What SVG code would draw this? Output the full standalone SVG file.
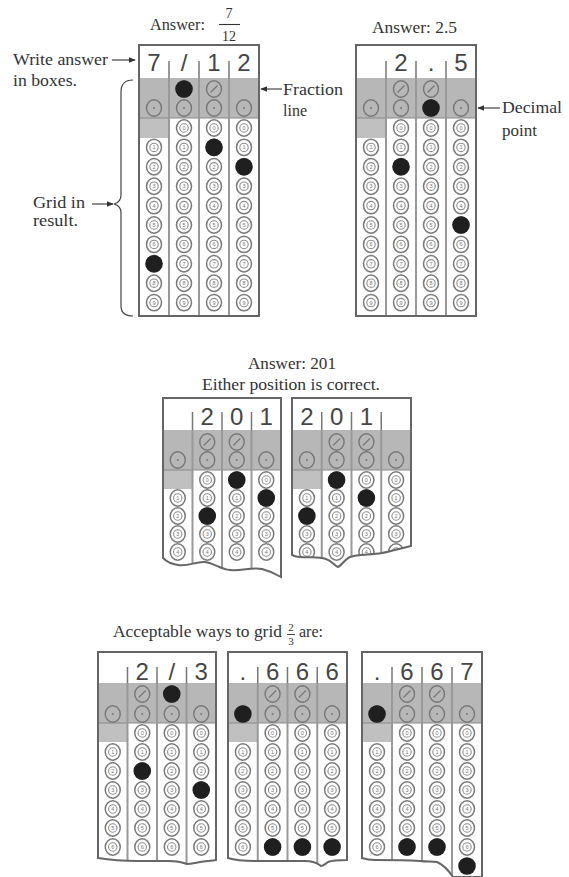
<svg xmlns="http://www.w3.org/2000/svg" width="569" height="877" viewBox="0 0 569 877">
<defs>
<style>
.lb{font-family:"Liberation Serif","Times New Roman",serif;font-size:16px;fill:#333}
.lbm{font-family:"Liberation Serif","Times New Roman",serif;font-size:16px;fill:#333;text-anchor:middle}
.fr{font-family:"Liberation Serif","Times New Roman",serif;font-size:14px;fill:#333;text-anchor:middle}
.fs{font-family:"Liberation Serif","Times New Roman",serif;font-size:11px;fill:#333;text-anchor:middle}
.hd{font-family:"Liberation Sans",Arial,sans-serif;font-size:24px;fill:#464646;text-anchor:middle}
.bg{fill:#fff}
.ol{fill:none;stroke:#666;stroke-width:2}
.band{fill:#b7b7b7}
.cell{fill:#c0c0c0}
.dv{fill:none;stroke:#999;stroke-width:2}
.bl{stroke:#888;stroke-width:1}
.tk{fill:none;stroke:#777;stroke-width:1.5}
.ob{fill:#fff;stroke:#7a7a7a;stroke-width:1.5}
.ib{fill:none;stroke:#8e8e8e;stroke-width:1.1}
.dg{font-family:"Liberation Sans",Arial,sans-serif;font-size:5.5px;fill:#777;text-anchor:middle}
.gb{fill:none;stroke:#777;stroke-width:1.4}
.fb{fill:#1f1f1f}
.cn{fill:none;stroke:#444;stroke-width:1.2}
</style>
<marker id="ah" viewBox="0 0 10 10" refX="9" refY="5" markerWidth="7" markerHeight="7" markerUnits="userSpaceOnUse" orient="auto"><path d="M0,1L10,5L0,9Z" fill="#333"/></marker>
<g id="n0"><ellipse class="ob" rx="7.5" ry="8.2"/><circle class="ib" r="4.2"/><text class="dg" y="2">0</text></g>
<g id="n1"><ellipse class="ob" rx="7.5" ry="8.2"/><circle class="ib" r="4.2"/><text class="dg" y="2">1</text></g>
<g id="n2"><ellipse class="ob" rx="7.5" ry="8.2"/><circle class="ib" r="4.2"/><text class="dg" y="2">2</text></g>
<g id="n3"><ellipse class="ob" rx="7.5" ry="8.2"/><circle class="ib" r="4.2"/><text class="dg" y="2">3</text></g>
<g id="n4"><ellipse class="ob" rx="7.5" ry="8.2"/><circle class="ib" r="4.2"/><text class="dg" y="2">4</text></g>
<g id="n5"><ellipse class="ob" rx="7.5" ry="8.2"/><circle class="ib" r="4.2"/><text class="dg" y="2">5</text></g>
<g id="n6"><ellipse class="ob" rx="7.5" ry="8.2"/><circle class="ib" r="4.2"/><text class="dg" y="2">6</text></g>
<g id="n7"><ellipse class="ob" rx="7.5" ry="8.2"/><circle class="ib" r="4.2"/><text class="dg" y="2">7</text></g>
<g id="n8"><ellipse class="ob" rx="7.5" ry="8.2"/><circle class="ib" r="4.2"/><text class="dg" y="2">8</text></g>
<g id="n9"><ellipse class="ob" rx="7.5" ry="8.2"/><circle class="ib" r="4.2"/><text class="dg" y="2">9</text></g>
<g id="sl"><ellipse class="gb" rx="7.5" ry="8.2"/><path d="M-3.5,3.5L3.5,-3.5" stroke="#777" stroke-width="1.2"/></g>
<g id="dt"><ellipse class="gb" rx="7.5" ry="8.2"/><circle r="1" fill="#777"/></g>
<circle id="fb" class="fb" r="8.8"/>
<g id="cA"><use href="#n0"/><use href="#n1" y="19.4"/><use href="#n2" y="38.8"/><use href="#n3" y="58.2"/><use href="#n4" y="77.6"/><use href="#n5" y="97"/><use href="#n6" y="116.4"/><use href="#n7" y="135.8"/><use href="#n8" y="155.2"/><use href="#n9" y="174.6"/></g>
<g id="cA1"><use href="#n1" y="19.4"/><use href="#n2" y="38.8"/><use href="#n3" y="58.2"/><use href="#n4" y="77.6"/><use href="#n5" y="97"/><use href="#n6" y="116.4"/><use href="#n7" y="135.8"/><use href="#n8" y="155.2"/><use href="#n9" y="174.6"/></g>
<g id="cB"><use href="#n0"/><use href="#n1" y="18"/><use href="#n2" y="36"/><use href="#n3" y="54"/><use href="#n4" y="72"/></g>
<g id="cB1"><use href="#n1" y="18"/><use href="#n2" y="36"/><use href="#n3" y="54"/><use href="#n4" y="72"/></g>
<g id="cC"><use href="#n0"/><use href="#n1" y="19"/><use href="#n2" y="38"/><use href="#n3" y="57"/><use href="#n4" y="76"/><use href="#n5" y="95"/><use href="#n6" y="114"/></g>
<g id="cC1"><use href="#n1" y="19"/><use href="#n2" y="38"/><use href="#n3" y="57"/><use href="#n4" y="76"/><use href="#n5" y="95"/><use href="#n6" y="114"/></g>
<path id="p3" d="M163,398H281V577C276,574 270,571 262,569C252,567 242,571 230,570C220,569 214,563 205,562C196,561 188,567 178,565C171,564 166,561 163,558Z"/>
<path id="p4" d="M292,398H411V546C402,548 392,551 382,553C370,555 358,554 350,557C345,559 341,566 338,567C335,566 332,561 326,559C318,556 310,558 300,557C296,557 294,556 292,555Z"/>
<path id="p5" d="M98,652H216V860C212,861 206,861 200,862C194,863 192,864 187,864C182,862 176,861 168,861C158,861 148,861 138,861C125,861 110,860 98,858Z"/>
<path id="p6" d="M228,652H347V860C340,860 333,860 328,862C325,864 323,866 321,866C318,864 315,861 305,861C290,861 270,861 255,861C243,861 234,860 228,858Z"/>
<path id="p7" d="M362,652H482V877H453C449,871 444,865 437,862C432,861 428,862 420,861C405,860 390,860 375,860C369,860 365,859 362,858Z"/>
<clipPath id="k3"><use href="#p3"/></clipPath>
<clipPath id="k4"><use href="#p4"/></clipPath>
<clipPath id="k5"><use href="#p5"/></clipPath>
<clipPath id="k6"><use href="#p6"/></clipPath>
<clipPath id="k7"><use href="#p7"/></clipPath>
</defs>
<rect width="569" height="877" fill="#fff"/>

<!-- labels -->
<g id="title-7-12">
<text class="lb" x="150" y="30" textLength="55" lengthAdjust="spacingAndGlyphs">Answer:</text>
<text class="fr" x="229" y="18">7</text>
<line x1="219" y1="24.5" x2="240" y2="24.5" stroke="#333" stroke-width="1.1"/>
<text class="fr" x="229" y="41">12</text>
</g>
<g id="label-write"><text class="lb" x="13" y="65" textLength="95" lengthAdjust="spacingAndGlyphs">Write answer</text><text class="lb" x="13" y="86" textLength="64" lengthAdjust="spacingAndGlyphs">in boxes.</text></g>
<g id="label-grid"><text class="lb" x="33" y="208" textLength="52" lengthAdjust="spacingAndGlyphs">Grid in</text><text class="lb" x="33" y="226" textLength="45" lengthAdjust="spacingAndGlyphs">result.</text></g>
<g id="label-fraction"><text class="lb" x="283" y="95" textLength="60" lengthAdjust="spacingAndGlyphs">Fraction</text><text class="lb" x="283" y="116">line</text></g>
<g id="title-2-5"><text class="lb" x="372" y="33" textLength="85" lengthAdjust="spacingAndGlyphs">Answer: 2.5</text></g>
<g id="label-decimal"><text class="lb" x="502" y="113" textLength="60" lengthAdjust="spacingAndGlyphs">Decimal</text><text class="lb" x="502" y="136" textLength="35" lengthAdjust="spacingAndGlyphs">point</text></g>
<g id="title-201"><text class="lbm" x="292" y="369" textLength="88" lengthAdjust="spacingAndGlyphs">Answer: 201</text><text class="lbm" x="291" y="390" textLength="178" lengthAdjust="spacingAndGlyphs">Either position is correct.</text></g>
<g id="title-2-3">
<text class="lb" x="113" y="637" textLength="169" lengthAdjust="spacingAndGlyphs">Acceptable ways to grid</text>
<text class="fs" x="291" y="631">2</text>
<line x1="287" y1="634.5" x2="295" y2="634.5" stroke="#333" stroke-width="0.9"/>
<text class="fs" x="291" y="645">3</text>
<text class="lb" x="299" y="637">are:</text>
</g>

<!-- grid 7/12 -->
<g id="grid-7-12">
<rect class="bg" x="139" y="45" width="120" height="271"/>
<rect class="band" x="139" y="78" width="120" height="40"/>
<rect class="cell" x="139" y="118" width="30" height="20"/>
<line class="bl" x1="139" y1="118" x2="259" y2="118"/>
<path class="dv" d="M169,78V316M199,78V316M229,78V316"/>
<path class="tk" d="M169,61V78M199,61V78M229,61V78"/>
<text class="hd" x="154" y="71">7</text><text class="hd" x="184" y="71">/</text><text class="hd" x="214" y="71">1</text><text class="hd" x="244" y="71">2</text>
<use href="#dt" x="154" y="108"/>
<use href="#sl" x="184" y="89"/><use href="#dt" x="184" y="108"/>
<use href="#sl" x="214" y="89"/><use href="#dt" x="214" y="108"/>
<use href="#dt" x="244" y="108"/>
<use href="#cA1" x="154" y="128"/><use href="#cA" x="184" y="128"/><use href="#cA" x="214" y="128"/><use href="#cA" x="244" y="128"/>
<use href="#fb" x="184" y="89"/><use href="#fb" x="214" y="147.4"/><use href="#fb" x="244" y="166.8"/><use href="#fb" x="154" y="263.8"/>
<rect class="ol" x="139" y="45" width="120" height="271"/>
</g>

<!-- grid 2.5 -->
<g id="grid-2-5">
<rect class="bg" x="356" y="45" width="120" height="271"/>
<rect class="band" x="356" y="78" width="120" height="40"/>
<rect class="cell" x="356" y="118" width="30" height="20"/>
<line class="bl" x1="356" y1="118" x2="476" y2="118"/>
<path class="dv" d="M386,78V316M416,78V316M446,78V316"/>
<path class="tk" d="M386,61V78M416,61V78M446,61V78"/>
<text class="hd" x="401" y="71">2</text><text class="hd" x="431" y="71">.</text><text class="hd" x="461" y="71">5</text>
<use href="#dt" x="371" y="108"/>
<use href="#sl" x="401" y="89"/><use href="#dt" x="401" y="108"/>
<use href="#sl" x="431" y="89"/><use href="#dt" x="431" y="108"/>
<use href="#dt" x="461" y="108"/>
<use href="#cA1" x="371" y="128"/><use href="#cA" x="401" y="128"/><use href="#cA" x="431" y="128"/><use href="#cA" x="461" y="128"/>
<use href="#fb" x="401" y="166.8"/><use href="#fb" x="431" y="108"/><use href="#fb" x="461" y="225"/>
<rect class="ol" x="356" y="45" width="120" height="271"/>
</g>

<!-- grid 201 a -->
<g id="grid-201-a">
<use href="#p3" class="bg"/>
<g clip-path="url(#k3)">
<rect class="band" x="163" y="430" width="118" height="40"/>
<rect class="cell" x="163" y="470" width="29.5" height="19"/>
<line class="bl" x1="163" y1="470" x2="281" y2="470"/>
<path class="dv" d="M192.5,430V580M222,430V580M251.5,430V580"/>
<path class="tk" d="M192.5,412V430M222,412V430M251.5,412V430"/>
<text class="hd" x="207.25" y="425">2</text><text class="hd" x="236.75" y="425">0</text><text class="hd" x="266.25" y="425">1</text>
<use href="#dt" x="177.75" y="460"/>
<use href="#sl" x="207.25" y="442"/><use href="#dt" x="207.25" y="460"/>
<use href="#sl" x="236.75" y="442"/><use href="#dt" x="236.75" y="460"/>
<use href="#dt" x="266.25" y="460"/>
<use href="#cB1" x="177.75" y="480"/><use href="#cB" x="207.25" y="480"/><use href="#cB" x="236.75" y="480"/><use href="#cB" x="266.25" y="480"/>
<use href="#fb" x="207.25" y="516"/><use href="#fb" x="236.75" y="480"/><use href="#fb" x="266.25" y="498"/>
</g>
<use href="#p3" class="ol"/>
</g>

<!-- grid 201 b -->
<g id="grid-201-b">
<use href="#p4" class="bg"/>
<g clip-path="url(#k4)">
<rect class="band" x="292" y="430" width="119" height="40"/>
<rect class="cell" x="292" y="470" width="29.75" height="19"/>
<line class="bl" x1="292" y1="470" x2="411" y2="470"/>
<path class="dv" d="M321.75,430V580M351.5,430V580M381.25,430V580"/>
<path class="tk" d="M321.75,412V430M351.5,412V430M381.25,412V430"/>
<text class="hd" x="306.9" y="425">2</text><text class="hd" x="336.6" y="425">0</text><text class="hd" x="366.4" y="425">1</text>
<use href="#dt" x="306.9" y="460"/>
<use href="#sl" x="336.6" y="442"/><use href="#dt" x="336.6" y="460"/>
<use href="#sl" x="366.4" y="442"/><use href="#dt" x="366.4" y="460"/>
<use href="#dt" x="396.1" y="460"/>
<use href="#cB1" x="306.9" y="480"/><use href="#cB" x="336.6" y="480"/><use href="#cB" x="366.4" y="480"/><use href="#cB" x="396.1" y="480"/>
<use href="#fb" x="306.9" y="516"/><use href="#fb" x="336.6" y="480"/><use href="#fb" x="366.4" y="498"/>
</g>
<use href="#p4" class="ol"/>
</g>

<!-- grid 2/3 -->
<g id="grid-2-3">
<use href="#p5" class="bg"/>
<g clip-path="url(#k5)">
<rect class="band" x="98" y="683" width="118" height="40"/>
<rect class="cell" x="98" y="723" width="29.5" height="19"/>
<line class="bl" x1="98" y1="723" x2="216" y2="723"/>
<path class="dv" d="M127.5,683V877M157,683V877M186.5,683V877"/>
<path class="tk" d="M127.5,667V683M157,667V683M186.5,667V683"/>
<text class="hd" x="142.25" y="680">2</text><text class="hd" x="171.75" y="680">/</text><text class="hd" x="201.25" y="680">3</text>
<use href="#dt" x="112.75" y="714"/>
<use href="#sl" x="142.25" y="694"/><use href="#dt" x="142.25" y="714"/>
<use href="#sl" x="171.75" y="694"/><use href="#dt" x="171.75" y="714"/>
<use href="#dt" x="201.25" y="714"/>
<use href="#cC1" x="112.75" y="733"/><use href="#cC" x="142.25" y="733"/><use href="#cC" x="171.75" y="733"/><use href="#cC" x="201.25" y="733"/>
<use href="#fb" x="171.75" y="694"/><use href="#fb" x="142.25" y="771"/><use href="#fb" x="201.25" y="790"/>
</g>
<use href="#p5" class="ol"/>
</g>

<!-- grid .666 -->
<g id="grid-666">
<use href="#p6" class="bg"/>
<g clip-path="url(#k6)">
<rect class="band" x="228" y="683" width="119" height="40"/>
<rect class="cell" x="228" y="723" width="29.75" height="19"/>
<line class="bl" x1="228" y1="723" x2="347" y2="723"/>
<path class="dv" d="M257.75,683V877M287.5,683V877M317.25,683V877"/>
<path class="tk" d="M257.75,667V683M287.5,667V683M317.25,667V683"/>
<text class="hd" x="242.9" y="680">.</text><text class="hd" x="272.6" y="680">6</text><text class="hd" x="302.4" y="680">6</text><text class="hd" x="332.1" y="680">6</text>
<use href="#dt" x="242.9" y="714"/>
<use href="#sl" x="272.6" y="694"/><use href="#dt" x="272.6" y="714"/>
<use href="#sl" x="302.4" y="694"/><use href="#dt" x="302.4" y="714"/>
<use href="#dt" x="332.1" y="714"/>
<use href="#cC1" x="242.9" y="733"/><use href="#cC" x="272.6" y="733"/><use href="#cC" x="302.4" y="733"/><use href="#cC" x="332.1" y="733"/>
<use href="#fb" x="242.9" y="714"/><use href="#fb" x="272.6" y="847"/><use href="#fb" x="302.4" y="847"/><use href="#fb" x="332.1" y="847"/>
</g>
<use href="#p6" class="ol"/>
</g>

<!-- grid .667 -->
<g id="grid-667">
<use href="#p7" class="bg"/>
<g clip-path="url(#k7)">
<rect class="band" x="362" y="683" width="120" height="40"/>
<rect class="cell" x="362" y="723" width="30" height="19"/>
<line class="bl" x1="362" y1="723" x2="482" y2="723"/>
<path class="dv" d="M392,683V877M422,683V877M452,683V877"/>
<path class="tk" d="M392,667V683M422,667V683M452,667V683"/>
<text class="hd" x="377" y="680">.</text><text class="hd" x="407" y="680">6</text><text class="hd" x="437" y="680">6</text><text class="hd" x="467" y="680">7</text>
<use href="#dt" x="377" y="714"/>
<use href="#sl" x="407" y="694"/><use href="#dt" x="407" y="714"/>
<use href="#sl" x="437" y="694"/><use href="#dt" x="437" y="714"/>
<use href="#dt" x="467" y="714"/>
<use href="#cC1" x="377" y="733"/><use href="#cC" x="407" y="733"/><use href="#cC" x="437" y="733"/><use href="#cC" x="467" y="733"/>
<use href="#fb" x="377" y="714"/><use href="#fb" x="407" y="847"/><use href="#fb" x="437" y="847"/><use href="#fb" x="467" y="866"/>
</g>
<use href="#p7" class="ol"/>
</g>

<!-- connectors -->
<g id="connectors">
<path class="cn" d="M112,60H135" marker-end="url(#ah)"/>
<path class="cn" d="M92,204H113" marker-end="url(#ah)"/>
<path class="cn" d="M282,89H261" marker-end="url(#ah)"/>
<path class="cn" d="M500,108H478" marker-end="url(#ah)"/>
<path class="cn" d="M133,80C125,80 121,84 121,92L121,195C121,200 118,203 114,204C118,205 121,208 121,213L121,306C121,312 125,316 133,316"/>
</g>
</svg>
